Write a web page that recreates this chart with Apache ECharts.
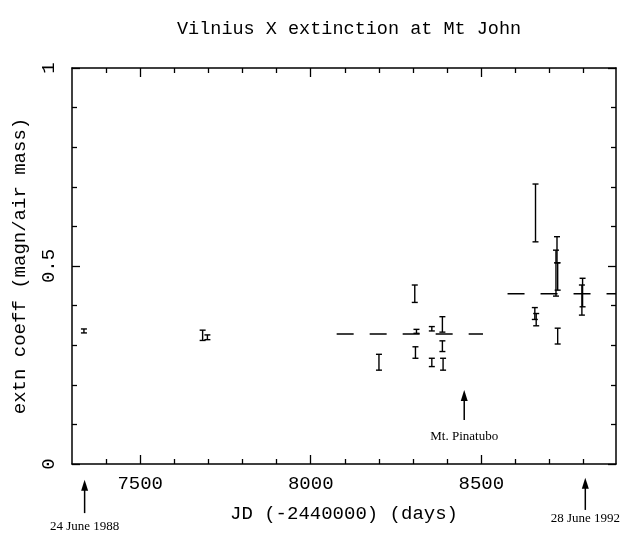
<!DOCTYPE html>
<html>
<head>
<meta charset="utf-8">
<title>Vilnius X extinction at Mt John</title>
<script src="https://cdn.jsdelivr.net/npm/echarts@6/dist/echarts.min.js"></script>
<style>
  html, body { margin: 0; padding: 0; background: #fff; }
  #chart { width: 627px; height: 535px; }
</style>
</head>
<body>
<div id="chart"></div>
<script>
// nights of extinction measurements: JD - 2440000, low and high end of the error bar
const obsJD   = [7335, 7683, 7697, 8200, 8305, 8310, 8307, 8355, 8355, 8386, 8386, 8388, 8657, 8661, 8659, 8719, 8722, 8724, 8724, 8795, 8797]
const obsLow  = [0.331, 0.312, 0.314, 0.237, 0.408, 0.330, 0.267, 0.336, 0.246, 0.333, 0.284, 0.237, 0.365, 0.349, 0.561, 0.424, 0.508, 0.439, 0.303, 0.376, 0.397]
const obsHigh = [0.341, 0.338, 0.326, 0.277, 0.452, 0.340, 0.296, 0.347, 0.267, 0.372, 0.311, 0.267, 0.395, 0.380, 0.707, 0.540, 0.574, 0.508, 0.343, 0.452, 0.469]

// mean extinction before / after Pinatubo (dashed)
const meanBeforeJD = [8076, 8505]
const meanBefore   = [0.328, 0.328]
const meanAfterJD  = [8577, 8895]
const meanAfter    = [0.430, 0.430]

// arrows with notes: x, arrow tip, arrow tail, text y
const noteText = ['24 June 1988', 'Mt. Pinatubo', '28 June 1992']
const noteJD   = [7337, 8450, 8805]
const noteTip  = [-0.040, 0.187, -0.035]
const noteTail = [-0.124, 0.111, -0.116]
const noteY    = [-0.158, 0.068, -0.139]

// axis ticks
const xMajorTicks = [7500, 8000, 8500]
const xMinorTicks = [7400, 7600, 7700, 7800, 7900, 8100, 8200, 8300, 8400, 8600, 8700, 8800]
const yMajorTicks = [0, 0.5, 1]
const yMinorTicks = [0.1, 0.2, 0.3, 0.4, 0.6, 0.7, 0.8, 0.9]

const plotFont = 'Liberation Mono'
const ink = '#000'

const chart = echarts.init(document.getElementById('chart'), null, {renderer: 'canvas'})

//一个坐标轴: 主刻度或次刻度
function makeXAxis(position, ticks, len, withLine, withLabel) {
  return {
    type: 'value', min: 7300, max: 8895, position: position,
    axisLine: {show: withLine, onZero: false, lineStyle: {color: ink, width: 1.5}},
    axisTick: {show: true, inside: true, length: len, customValues: ticks, lineStyle: {color: ink, width: 1.3}},
    axisLabel: {show: withLabel, customValues: ticks, color: ink, fontFamily: plotFont, fontSize: 19, margin: 10,
      formatter: v => String(v)},
    splitLine: {show: false}
  }
}
function makeYAxis(position, ticks, len, withLine, withLabel) {
  return {
    type: 'value', min: 0, max: 1, position: position,
    axisLine: {show: withLine, onZero: false, lineStyle: {color: ink, width: 1.5}},
    axisTick: {show: true, inside: true, length: len, customValues: ticks, lineStyle: {color: ink, width: 1.3}},
    axisLabel: {show: withLabel, customValues: ticks, rotate: 90, color: ink, fontFamily: plotFont, fontSize: 19, margin: 14,
      formatter: v => String(v)},
    splitLine: {show: false}
  }
}

const xAxes = [
  makeXAxis('bottom', xMajorTicks, 9, true, true),
  makeXAxis('bottom', xMinorTicks, 5, false, false),
  makeXAxis('top', xMajorTicks, 9, true, false),
  makeXAxis('top', xMinorTicks, 5, false, false)
]
Object.assign(xAxes[0], {
  name: 'JD (-2440000) (days)', nameLocation: 'middle', nameGap: 40,
  nameTextStyle: {color: ink, fontFamily: plotFont, fontSize: 19}
})
const yAxes = [
  makeYAxis('left', yMajorTicks, 8, true, true),
  makeYAxis('left', yMinorTicks, 5, false, false),
  makeYAxis('right', yMajorTicks, 8, true, false),
  makeYAxis('right', yMinorTicks, 5, false, false)
]
Object.assign(yAxes[0], {
  name: 'extn coeff (magn/air mass)', nameLocation: 'middle', nameGap: 43, nameRotate: 90,
  nameTextStyle: {color: ink, fontFamily: plotFont, fontSize: 19}
})

function renderErrorBar(params, api) {
  const x = api.value(0)
  const lo = api.coord([x, api.value(1)])
  const hi = api.coord([x, api.value(2)])
  const hw = 3
  const style = {stroke: ink, lineWidth: 1.4}
  return {
    type: 'group',
    children: [
      {type: 'line', shape: {x1: lo[0], y1: lo[1], x2: hi[0], y2: hi[1]}, style: style},
      {type: 'line', shape: {x1: lo[0] - hw, y1: lo[1], x2: lo[0] + hw, y2: lo[1]}, style: style},
      {type: 'line', shape: {x1: hi[0] - hw, y1: hi[1], x2: hi[0] + hw, y2: hi[1]}, style: style}
    ]
  }
}

function renderNote(params, api) {
  const x = api.value(0)
  const tip = api.coord([x, api.value(1)])
  const tail = api.coord([x, api.value(2)])
  const txt = api.coord([x, api.value(3)])
  const i = params.dataIndex
  return {
    type: 'group',
    children: [
      {type: 'line', shape: {x1: tail[0], y1: tail[1], x2: tip[0], y2: tip[1] + 6}, style: {stroke: ink, lineWidth: 1.5}},
      {type: 'polygon', shape: {points: [[tip[0], tip[1]], [tip[0] - 3.5, tip[1] + 11], [tip[0] + 3.5, tip[1] + 11]]},
        style: {fill: ink}},
      {type: 'text', x: txt[0], y: txt[1], style: {text: noteText[i], fill: ink, font: '13px "Liberation Serif"',
        align: 'center', verticalAlign: 'middle'}}
    ]
  }
}

const option = {
  backgroundColor: '#fff',
  animation: false,
  title: {
    // 标题居中于绘图区上方
    text: 'Vilnius X extinction at Mt John',
    left: 172, top: 15,
    textStyle: {color: ink, fontFamily: plotFont, fontSize: 18.5, fontWeight: 'normal'}
  },
  grid: {left: 72, right: 11, top: 68, bottom: 71},
  xAxis: xAxes,
  yAxis: yAxes,
  series: [
    {
      type: 'custom', name: 'extinction',
      renderItem: renderErrorBar,
      encode: {x: 0, y: [1, 2]},
      data: obsJD.map((jd, i) => [jd, obsLow[i], obsHigh[i]])
    },
    {
      type: 'line', showSymbol: false, silent: true,
      lineStyle: {color: ink, width: 1.5, type: [17, 16]},
      data: meanBeforeJD.map((jd, i) => [jd, meanBefore[i]])
    },
    {
      type: 'line', showSymbol: false, silent: true,
      lineStyle: {color: ink, width: 1.5, type: [17, 16]},
      data: meanAfterJD.map((jd, i) => [jd, meanAfter[i]])
    },
    {
      type: 'custom', name: 'notes', clip: false, silent: true,
      renderItem: renderNote,
      encode: {x: 0, y: [1, 2, 3]},
      data: noteJD.map((jd, i) => [jd, noteTip[i], noteTail[i], noteY[i]])
    }
  ]
}

chart.setOption(option)
</script>
</body>
</html>
